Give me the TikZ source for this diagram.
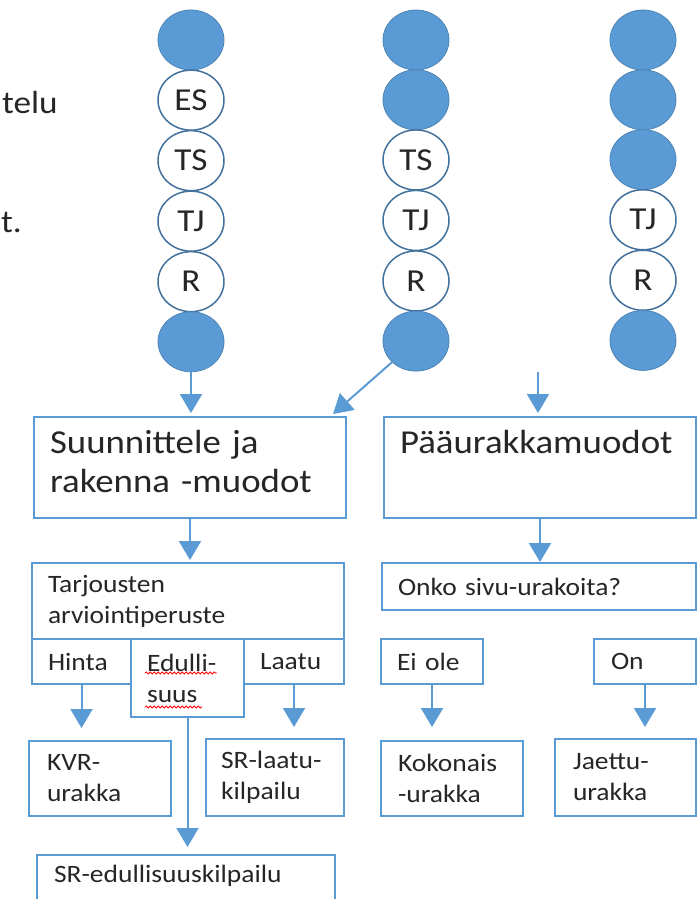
\documentclass[tikz,border=0pt]{standalone}
\usepackage{fontspec}
\setmainfont{Carlito}[FakeStretch=1.1]
\usepackage{tikz}
\usetikzlibrary{positioning, shapes.geometric, arrows.meta, decorations.pathmorphing}

\definecolor{fillblue}{HTML}{5B9BD5}
\definecolor{rimblue}{HTML}{41719C}
\definecolor{inkgray}{HTML}{262626}

\tikzset{
  dot/.style={ellipse, draw=fillblue!85!black, fill=fillblue, line width=0.8pt, minimum width=66pt, minimum height=60pt, inner sep=0pt},
  ring/.style={ellipse, draw=rimblue, fill=white, line width=1.5pt, minimum width=66pt, minimum height=60pt, inner sep=0pt, text=inkgray, font=\fontsize{32}{38}\selectfont},
  bigbox/.style={draw=fillblue, line width=2pt, anchor=north west, align=left, inner xsep=16pt, inner ysep=0pt, text=inkgray, font=\fontsize{33.5}{39}\selectfont},
  smallbox/.style={draw=fillblue, line width=2pt, anchor=north west, align=left, inner xsep=16pt, inner ysep=0pt, text=inkgray, font=\fontsize{25}{31}\selectfont},
  flow/.style={draw, color=fillblue, line width=2pt, -{Triangle[width=22pt,length=19pt]}},
  squiggle/.style={draw=red, line width=0.8pt, decorate, decoration={snake, amplitude=1.1pt, segment length=4pt}},
  sidetext/.style={text=inkgray, inner sep=0pt, font=\fontsize{32}{38}\selectfont}
}

\begin{document}
\begin{tikzpicture}[x=1pt, y=-1pt]
    \useasboundingbox[fill=white] (0,0) rectangle (699,899);

    % cut-off text on the left
    \node[sidetext, anchor=base west] (frag1) at (2,113) {telu};
    \node[sidetext, anchor=base west] (frag2) at (1,232) {t.};

    % first column
    \node[dot] (c1a) at (191,40) {};
    \node[ring, below=-1pt of c1a] (c1b) {ES};
    \node[ring, below=-1pt of c1b] (c1c) {TS};
    \node[ring, below=-1pt of c1c] (c1d) {TJ};
    \node[ring, below=-1pt of c1d] (c1e) {R};
    \node[dot, below=-1pt of c1e] (c1f) {};

    % second column
    \node[dot] (c2a) at (416,40) {};
    \node[dot, below=-1pt of c2a] (c2b) {};
    \node[ring, below=-1pt of c2b] (c2c) {TS};
    \node[ring, below=-1pt of c2c] (c2d) {TJ};
    \node[ring, below=-1pt of c2d] (c2e) {R};
    \node[dot, below=-1pt of c2e] (c2f) {};

    % third column
    \node[dot] (c3a) at (643,40) {};
    \node[dot, below=-1pt of c3a] (c3b) {};
    \node[dot, below=-1pt of c3b] (c3c) {};
    \node[ring, below=-1pt of c3c] (c3d) {TJ};
    \node[ring, below=-1pt of c3d] (c3e) {R};
    \node[dot, below=-1pt of c3e] (c3f) {};

    % main forms
    \node[bigbox, text width=280pt, minimum height=101pt] (design) at (33,416) {Suunnittele ja\\rakenna -muodot\strut};
    \node[bigbox, text width=280pt, minimum height=101pt] (main) at (383,416) {Pääurakkamuodot\\\strut};

    % left branch
    \node[smallbox, text width=280pt, minimum height=76pt] (criteria) at (31,562) {Tarjousten\\arviointiperuste};
    \node[smallbox, text width=67pt, minimum height=45pt] (price) at (31,638) {Hinta};
    \node[smallbox, text width=81pt, minimum height=78pt] (value) at (130,638) {Edulli-\\suus};
    \node[smallbox, text width=68pt, minimum height=45pt] (quality) at (243,638) {Laatu};
    \node[smallbox, inner xsep=18pt, text width=106pt, minimum height=75pt] (kvr) at (28,740) {KVR-\\urakka};
    \node[smallbox, inner xsep=15pt, text width=108pt, minimum height=77pt] (srq) at (205,738) {SR-laatu-\\kilpailu};
    \node[smallbox, inner xsep=17pt, inner ysep=10pt, text width=264pt, text depth=30pt] (srv) at (36,854) {SR-edullisuuskilpailu};

    % right branch
    \node[smallbox, text width=282pt, minimum height=47pt] (side) at (381,562) {Onko sivu-urakoita?};
    \node[smallbox, text width=70pt, minimum height=45pt] (no) at (380,638) {Ei ole};
    \node[smallbox, inner xsep=17pt, text width=68pt, minimum height=45pt] (yes) at (593,638) {On};
    \node[smallbox, inner xsep=17pt, text width=108pt, minimum height=75pt] (whole) at (380,740) {Kokonais\\-urakka};
    \node[smallbox, inner xsep=18pt, text width=105pt, minimum height=77pt] (split) at (554,738) {Jaettu-\\urakka};

    % spelling marks
    \draw[squiggle] (145,673) -- (217,673);
    \draw[squiggle] (145,707) -- (202,707);

    \coordinate (dtip) at (333,414);
    \coordinate (pstart) at (538,372);

    \path[every edge/.style={flow}]
    (c1f.south) edge[shorten >=3pt] (c1f.south |- design.north)
    (c2f) edge (dtip)
    (pstart) edge[shorten >=3pt] (pstart |- main.north)
    (design.south) edge[shorten >=2pt] (design.south |- criteria.north)
    (main.south) edge (main.south |- side.north)
    (price.south) edge[shorten >=12pt] (price.south |- kvr.north)
    (quality.south) edge[shorten >=11pt] (quality.south |- srq.north)
    (value.south) edge[shorten >=7pt] (value.south |- srv.north)
    (no.south) edge[shorten >=13pt] (no.south |- whole.north)
    (yes.south) edge[shorten >=11pt] (yes.south |- split.north);
\end{tikzpicture}
\end{document}
